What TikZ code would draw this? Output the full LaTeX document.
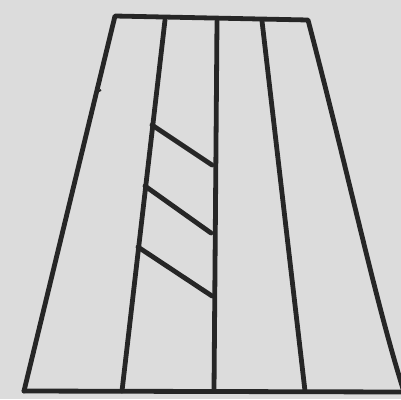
\documentclass[tikz,border=0pt]{standalone}
\usepackage{tikz}
\usetikzlibrary{calc}
\definecolor{paper}{HTML}{DCDCDC}
\definecolor{pencil}{HTML}{262626}
\tikzset{stroke/.style={pencil, line width=4.8pt, line cap=round, line join=round}}

\begin{document}
\begin{tikzpicture}[x=1pt, y=-1pt]
    \fill[paper] (0,0) rectangle (401,399);
    \useasboundingbox (0,0) rectangle (401,399);
    \clip (0,0) rectangle (401,399);
    % outline of the strip
    \coordinate (tl) at (115,16);
    \coordinate (tr) at (308,20);
    \coordinate (bl) at (24,391);
    \coordinate (br) at (404,392);
    \draw[stroke] (bl) -- (tl) -- (tr) .. controls (350,180) and (375,300) .. (br);
    \draw[stroke] (bl) -- (br);
    % inner lines
    \draw[stroke] (165,20) -- (122,391);
    \draw[stroke] (217,21) -- (214,391);
    \draw[stroke] (262,21) -- (305,391);
    % hatches
    \draw[stroke] (152,125) -- (212,165);
    \draw[stroke] (145,186) -- (211,233);
    \draw[stroke] (138,247) -- (212,296);
    \draw[pencil, line width=1.8pt] (97,92) -- (101,90);
\end{tikzpicture}
\end{document}
